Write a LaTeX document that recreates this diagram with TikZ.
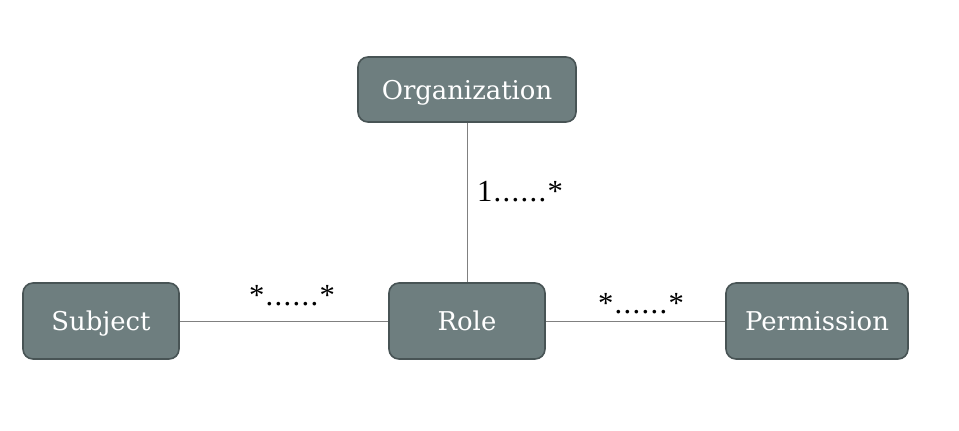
\documentclass[tikz,border=0pt]{standalone}
\usepackage{fontspec}
\setmainfont{DejaVu Serif}
\newfontfamily\labfont{Liberation Serif}
\begin{document}
\begin{tikzpicture}[x=0.75pt,y=-0.75pt,
  entity/.style={draw={rgb,255:red,72;green,84;blue,85}, line width=1.2pt, fill={rgb,255:red,110;green,126;blue,127},
    rounded corners=7.5pt, text=white, font=\fontsize{19.4}{21}\selectfont, inner sep=0pt,
    text height=18.5pt, text depth=4pt},
  link/.style={draw=gray, line width=0.6pt},
  mult/.style={font=\labfont\fontsize{23}{25}\selectfont, inner sep=0pt}]
\useasboundingbox[fill=white] (0,0) rectangle (959,430);
\node[entity, minimum width=163.5pt, minimum height=48.75pt] (org) at (467,89.5) {Organization};
\node[entity, minimum width=117pt, minimum height=57pt] (subj) at (101,321) {Subject};
\node[entity, minimum width=117pt, minimum height=57pt] (role) at (467,321) {Role};
\node[entity, minimum width=136.5pt, minimum height=57pt] (perm) at (817,321) {Permission};
\draw[link] (org) -- (role);
\draw[link] (subj) -- (role);
\draw[link] (role) -- (perm);
\node[mult] (m1) at (520,192) {1\kern1pt.\kern1pt.\kern1pt.\kern1pt.\kern1pt.\kern1pt.\kern1pt*};
\node[mult] (m2) at (292,296) {*\kern1pt.\kern1pt.\kern1pt.\kern1pt.\kern1pt.\kern1pt.\kern1pt*};
\node[mult] (m3) at (641,304) {*\kern1pt.\kern1pt.\kern1pt.\kern1pt.\kern1pt.\kern1pt.\kern1pt*};
\end{tikzpicture}
\end{document}
